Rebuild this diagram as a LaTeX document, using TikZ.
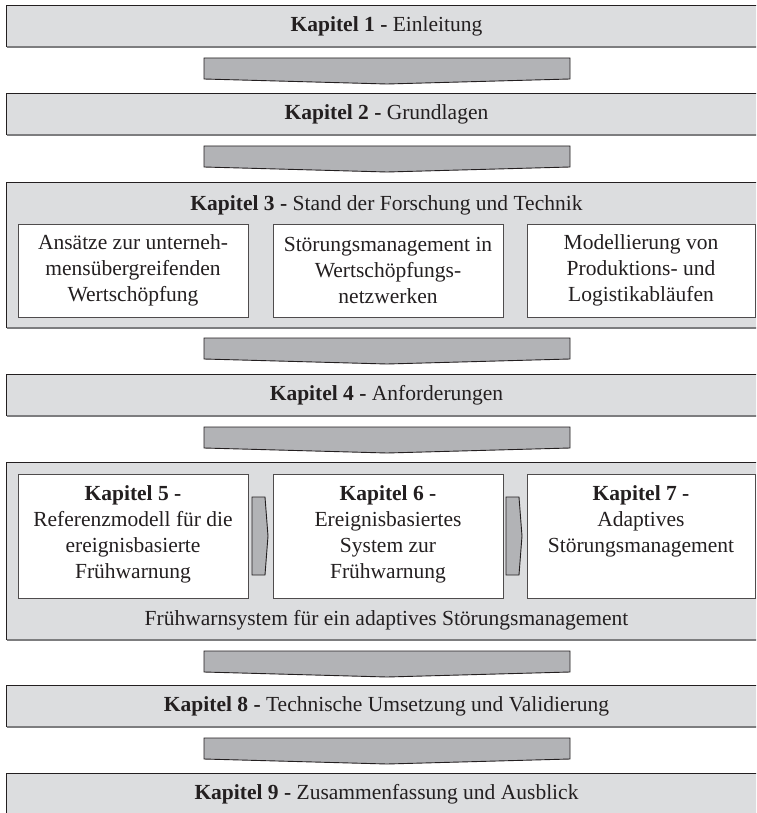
\documentclass[tikz,border=0pt]{standalone}
\usepackage{fontspec}
\setmainfont{Liberation Serif}
\definecolor{boxgray}{RGB}{220,221,223}
\definecolor{chevgray}{RGB}{178,179,182}
\definecolor{ink}{RGB}{35,31,32}
\definecolor{edgegray}{RGB}{125,125,127}
\newcommand\boxedges[1]{%
  \draw[topedge] (#1.south west) -- (#1.north west) -- (#1.north east);
  \draw[botedge] (#1.south west) -- (#1.south east);}
\newcommand\chevat[1]{%
  \draw[chev] (204,#1) -- (570,#1) -- (570,#1+21) -- (387,#1+26) -- (204,#1+21) -- cycle;}
\begin{document}
\begin{tikzpicture}[x=1pt,y=-1pt,
  every node/.style={text=ink, font=\fontsize{21.5}{26}\selectfont, inner sep=0pt},
  outer/.style={fill=boxgray, draw=none, minimum width=759pt},
  inner/.style={fill=white, draw=ink!80, line width=1pt},
  chev/.style={fill=chevgray, draw=ink, line width=0.9pt, line join=miter},
  topedge/.style={draw=ink, line width=1.1pt},
  botedge/.style={draw=edgegray, line width=1.6pt},
  txt/.style={align=center}]
\clip (0,0) rectangle (756,813);
\fill[white] (0,0) rectangle (756,813);

% Kapitel 1
\node[outer, minimum height=41pt] (k1) at (386.5,26.5) {\textbf{Kapitel 1 -} Einleitung};
\boxedges{k1}
\chevat{58}

% Kapitel 2
\node[outer, minimum height=41pt] (k2) at (386.5,114.5) {\textbf{Kapitel 2 -} Grundlagen};
\boxedges{k2}
\chevat{146}

% Kapitel 3
\node[outer, minimum height=145pt] (k3) at (386.5,255.5) {};
\boxedges{k3}
\node (h3) at (386.5,205) {\textbf{Kapitel 3 -} Stand der Forschung und Technik};
\node[inner, minimum width=230pt, minimum height=93pt] (b3a) at (133,270.5) {};
\node[inner, minimum width=230pt, minimum height=93pt] (b3b) at (388,270.5) {};
\node[inner, minimum width=228pt, minimum height=93pt] (b3c) at (641,270.5) {};
\node[txt] (t3a) at (b3a) {Ansätze zur unterneh-\\mensübergreifenden\\Wertschöpfung};
\node[txt] (t3b) at (b3b) {Störungsmanagement in\\Wertschöpfungs-\\netzwerken};
\node[txt] (t3c) at (b3c) {Modellierung von\\Produktions- und\\Logistikabläufen};
\chevat{338}

% Kapitel 4
\node[outer, minimum height=41pt] (k4) at (386.5,395.5) {\textbf{Kapitel 4 -} Anforderungen};
\boxedges{k4}
\chevat{427}

% Kapitel 5-7
\node[outer, minimum height=177pt] (k5) at (386.5,551.5) {};
\boxedges{k5}
\node[inner, minimum width=230pt, minimum height=124pt] (b5) at (133,536) {};
\node[inner, minimum width=230pt, minimum height=124pt] (b6) at (388,536) {};
\node[inner, minimum width=228pt, minimum height=124pt] (b7) at (641,536) {};
\node[txt, anchor=north] (t5) at (133,485) {\textbf{Kapitel 5 -}\\Referenzmodell für die\\ereignisbasierte\\Frühwarnung};
\node[txt, anchor=north] (t6) at (388,485) {\textbf{Kapitel 6 -}\\Ereignisbasiertes\\System zur\\Frühwarnung};
\node[txt, anchor=north] (t7) at (641,485) {\textbf{Kapitel 7 -}\\Adaptives\\Störungsmanagement};
\draw[chev] (252,497) -- (265,497) -- (268,536) -- (265,575) -- (252,575) -- cycle;
\draw[chev] (506,497) -- (519,497) -- (522,536) -- (519,575) -- (506,575) -- cycle;
\node (l5) at (386.5,620) {Frühwarnsystem für ein adaptives Störungsmanagement};
\chevat{651}

% Kapitel 8
\node[outer, minimum height=41pt] (k8) at (386.5,706.5) {\textbf{Kapitel 8 -} Technische Umsetzung und Validierung};
\boxedges{k8}
\chevat{738}

% Kapitel 9
\node[outer, minimum height=41pt] (k9) at (386.5,794.5) {\textbf{Kapitel 9 -} Zusammenfassung und Ausblick};
\boxedges{k9}
\end{tikzpicture}
\end{document}
